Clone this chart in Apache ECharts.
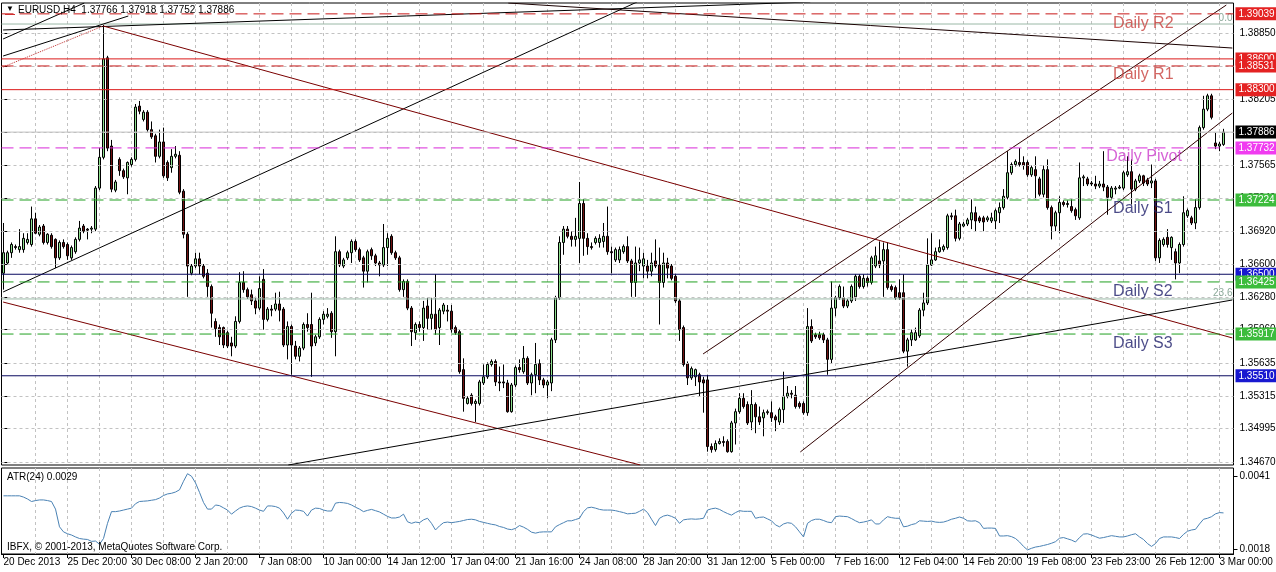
<!DOCTYPE html>
<html><head><meta charset="utf-8">
<script src="https://cdn.jsdelivr.net/npm/echarts@6/dist/echarts.min.js"></script>
<style>html,body{margin:0;padding:0;background:#fff}#c{width:1276px;height:572px}</style>
</head><body><div id="c"></div>
<script>
// ---------- DATA (EURUSD H4) ----------
const symbolName = 'EURUSD,H4';
const open = [
1.3651,1.3661,1.3671,1.3677,1.3674,1.3674,1.3681,1.3679,1.3704,1.3689,
1.3697,1.3681,1.3688,1.3684,1.3666,1.3681,1.3679,1.3666,1.3672,1.3684,
1.3697,1.3694,1.3694,1.3694,1.3734,1.3764,1.3861,1.3775,1.3732,1.3762,
1.3751,1.3744,1.3757,1.3762,1.3814,1.3801,1.3808,1.3791,1.3785,1.3765,
1.3779,1.3759,1.3754,1.3765,1.3766,1.3731,1.3689,1.3651,1.3658,1.3665,
1.3658,1.3651,1.3638,1.3604,1.3598,1.3598,1.3593,1.3583,1.3580,1.3604,
1.3642,1.3635,1.3630,1.3624,1.3617,1.3645,1.3606,1.3616,1.3616,1.3621,
1.3616,1.3581,1.3599,1.3580,1.3570,1.3578,1.3601,1.3601,1.3583,1.3589,
1.3606,1.3609,1.3612,1.3594,1.3672,1.3658,1.3666,1.3671,1.3682,1.3674,
1.3666,1.3653,1.3674,1.3668,1.3661,1.3659,1.3676,1.3687,1.3671,1.3666,
1.3635,1.3643,1.3617,1.3593,1.3601,1.3598,1.3619,1.3607,1.3611,1.3598,
1.3614,1.3615,1.3614,1.3598,1.3594,1.3557,1.3524,1.3532,1.3524,1.3524,
1.3544,1.3550,1.3562,1.3565,1.3545,1.3545,1.3544,1.3516,1.3542,1.3559,
1.3555,1.3568,1.3544,1.3552,1.3563,1.3547,1.3542,1.3544,1.3586,1.3627,
1.3681,1.3694,1.3687,1.3684,1.3685,1.3719,1.3685,1.3677,1.3681,1.3681,
1.3682,1.3687,1.3672,1.3664,1.3664,1.3672,1.3677,1.3663,1.3642,1.3661,
1.3658,1.3658,1.3653,1.3663,1.3659,1.3642,1.3661,1.3658,1.3648,1.3624,
1.3598,1.3563,1.3549,1.3550,1.3552,1.3547,1.3547,1.3482,1.3479,1.3485,
1.3487,1.3487,1.3477,1.3505,1.3516,1.3529,1.3523,1.3506,1.3523,1.3511,
1.3510,1.3515,1.3515,1.3511,1.3506,1.3518,1.3531,1.3534,1.3532,1.3524,
1.3524,1.3515,1.3599,1.3591,1.3591,1.3591,1.3586,1.3567,1.3617,1.3627,
1.3627,1.3619,1.3624,1.3628,1.3648,1.3638,1.3646,1.3642,1.3658,1.3663,
1.3663,1.3674,1.3638,1.3637,1.3632,1.3632,1.3575,1.3586,1.3586,1.3590,
1.3615,1.3622,1.3659,1.3664,1.3672,1.3674,1.3676,1.3707,1.3707,1.3685,
1.3697,1.3699,1.3703,1.3710,1.3705,1.3705,1.3703,1.3702,1.3702,1.3710,
1.3715,1.3725,1.3749,1.3757,1.3759,1.3759,1.3759,1.3747,1.3752,1.3743,
1.3728,1.3752,1.3715,1.3697,1.3710,1.3720,1.3718,1.3716,1.3713,1.3705,
1.3744,1.3743,1.3739,1.3738,1.3736,1.3738,1.3735,1.3725,1.3733,1.3734,
1.3734,1.3747,1.3750,1.3733,1.3741,1.3746,1.3742,1.3739,1.3741,1.3666,
1.3679,1.3686,1.3676,1.3672,1.3661,1.3679,1.3707,1.3705,1.3700,1.3715,
1.3793,1.3811,1.3824,1.3778,1.3775,1.37766];
const close = [
1.3671,1.3671,1.3679,1.3676,1.3677,1.3685,1.3684,1.3704,1.3690,1.3696,
1.3681,1.3689,1.3677,1.3666,1.3681,1.3677,1.3668,1.3676,1.3684,1.3695,
1.3692,1.3693,1.3695,1.3734,1.3764,1.3860,1.3773,1.3733,1.3740,1.3751,
1.3745,1.3759,1.3762,1.3813,1.3809,1.3808,1.3791,1.3784,1.3765,1.3779,
1.3746,1.3744,1.3765,1.3767,1.3730,1.3689,1.3658,1.3658,1.3665,1.3658,
1.3648,1.3638,1.3612,1.3597,1.3589,1.3581,1.3580,1.3580,1.3604,1.3642,
1.3635,1.3628,1.3624,1.3617,1.3636,1.3606,1.3616,1.3615,1.3621,1.3615,
1.3581,1.3599,1.3581,1.3570,1.3578,1.3601,1.3598,1.3580,1.3589,1.3606,
1.3611,1.3611,1.3594,1.3672,1.3659,1.3664,1.3671,1.3682,1.3674,1.3664,
1.3653,1.3672,1.3668,1.3661,1.3659,1.3676,1.3685,1.3671,1.3666,1.3635,
1.3643,1.3617,1.3594,1.3601,1.3598,1.3617,1.3607,1.3611,1.3596,1.3615,
1.3620,1.3614,1.3596,1.3593,1.3555,1.3529,1.3529,1.3524,1.3526,1.3545,
1.3550,1.3562,1.3565,1.3545,1.3544,1.3544,1.3516,1.3542,1.3559,1.3557,
1.3568,1.3544,1.3552,1.3562,1.3547,1.3542,1.3545,1.3586,1.3627,1.3681,
1.3694,1.3687,1.3684,1.3687,1.3719,1.3685,1.3677,1.3676,1.3685,1.3685,
1.3687,1.3672,1.3671,1.3674,1.3674,1.3677,1.3663,1.3642,1.3661,1.3664,
1.3665,1.3653,1.3661,1.3658,1.3642,1.3661,1.3656,1.3646,1.3624,1.3596,
1.3562,1.3549,1.3558,1.3557,1.3545,1.3544,1.3482,1.3479,1.3485,1.3487,
1.3486,1.3477,1.3505,1.3516,1.3529,1.3521,1.3505,1.3523,1.3511,1.3506,
1.3515,1.3516,1.3510,1.3508,1.3518,1.3531,1.3534,1.3533,1.3521,1.3521,
1.3515,1.3599,1.3585,1.3589,1.3588,1.3586,1.3567,1.3617,1.3627,1.3638,
1.3619,1.3624,1.3638,1.3648,1.3638,1.3646,1.3642,1.3666,1.3668,1.3659,
1.3674,1.3637,1.3635,1.3627,1.3627,1.3575,1.3586,1.3593,1.3593,1.3615,
1.3622,1.3659,1.3664,1.3672,1.3676,1.3677,1.3707,1.3706,1.3685,1.3699,
1.3699,1.3703,1.3710,1.3702,1.3702,1.3701,1.3705,1.3705,1.3712,1.3715,
1.3726,1.3749,1.3757,1.3760,1.3757,1.3756,1.3747,1.3754,1.3746,1.3728,
1.3752,1.3715,1.3697,1.3710,1.3720,1.3718,1.3719,1.3712,1.3707,1.3744,
1.3745,1.3738,1.3738,1.3736,1.3738,1.3735,1.3725,1.3734,1.3734,1.3735,
1.3749,1.3750,1.3733,1.3741,1.3746,1.3739,1.3738,1.3741,1.3666,1.3683,
1.3684,1.3679,1.3686,1.3661,1.3679,1.3710,1.3712,1.3700,1.3715,1.3793,
1.3811,1.3824,1.3803,1.3775,1.3777,1.37886];
const low = [
1.3635,1.3660,1.3666,1.3674,1.3671,1.3671,1.3679,1.3677,1.3689,1.3687,
1.3679,1.3679,1.3675,1.3656,1.3664,1.3675,1.3664,1.3664,1.3670,1.3682,
1.3690,1.3684,1.3690,1.3692,1.3732,1.3762,1.3770,1.3730,1.3730,1.3746,
1.3743,1.3728,1.3755,1.3760,1.3806,1.3799,1.3789,1.3782,1.3759,1.3763,
1.3744,1.3741,1.3749,1.3763,1.3728,1.3685,1.3628,1.3649,1.3656,1.3650,
1.3646,1.3628,1.3598,1.3589,1.3581,1.3578,1.3578,1.3570,1.3578,1.3602,
1.3632,1.3626,1.3620,1.3611,1.3615,1.3596,1.3604,1.3609,1.3614,1.3604,
1.3579,1.3567,1.3552,1.3567,1.3565,1.3576,1.3594,1.3550,1.3580,1.3587,
1.3601,1.3607,1.3588,1.3570,1.3657,1.3656,1.3664,1.3661,1.3672,1.3662,
1.3637,1.3642,1.3664,1.3658,1.3648,1.3657,1.3658,1.3669,1.3664,1.3633,
1.3628,1.3615,1.3580,1.3586,1.3594,1.3585,1.3596,1.3596,1.3591,1.3581,
1.3611,1.3604,1.3593,1.3591,1.3553,1.3516,1.3523,1.3522,1.3506,1.3522,
1.3542,1.3548,1.3560,1.3541,1.3536,1.3539,1.3515,1.3515,1.3540,1.3554,
1.3553,1.3542,1.3532,1.3534,1.3542,1.3539,1.3529,1.3536,1.3583,1.3625,
1.3669,1.3685,1.3677,1.3677,1.3661,1.3668,1.3669,1.3674,1.3679,1.3676,
1.3676,1.3669,1.3651,1.3662,1.3661,1.3670,1.3661,1.3628,1.3628,1.3653,
1.3646,1.3646,1.3648,1.3656,1.3601,1.3637,1.3646,1.3644,1.3622,1.3585,
1.3560,1.3542,1.3547,1.3541,1.3531,1.3515,1.3477,1.3476,1.3477,1.3484,
1.3482,1.3476,1.3476,1.3484,1.3514,1.3519,1.3503,1.3498,1.3495,1.3503,
1.3492,1.3513,1.3506,1.3497,1.3503,1.3505,1.3529,1.3529,1.3519,1.3519,
1.3513,1.3512,1.3583,1.3587,1.3586,1.3583,1.3552,1.3563,1.3609,1.3625,
1.3617,1.3617,1.3622,1.3624,1.3636,1.3636,1.3638,1.3640,1.3656,1.3656,
1.3628,1.3635,1.3633,1.3625,1.3625,1.3573,1.3560,1.3580,1.3585,1.3588,
1.3609,1.3620,1.3658,1.3663,1.3671,1.3672,1.3674,1.3703,1.3682,1.3683,
1.3696,1.3697,1.3694,1.3692,1.3700,1.3692,1.3701,1.3700,1.3694,1.3700,
1.3713,1.3723,1.3747,1.3755,1.3755,1.3752,1.3745,1.3745,1.3723,1.3726,
1.3725,1.3713,1.3684,1.3692,1.3690,1.3716,1.3715,1.3710,1.3703,1.3703,
1.3736,1.3736,1.3736,1.3733,1.3734,1.3731,1.3708,1.3723,1.3728,1.3733,
1.3732,1.3745,1.3718,1.3731,1.3739,1.3736,1.3736,1.3734,1.3663,1.3661,
1.3677,1.3676,1.3664,1.3645,1.3651,1.3677,1.3705,1.3698,1.3694,1.3713,
1.3791,1.3809,1.3801,1.3772,1.3770,1.37752];
const high = [
1.3700,1.3673,1.3681,1.3679,1.3694,1.3690,1.3690,1.3716,1.3710,1.3698,
1.3699,1.3690,1.3690,1.3685,1.3683,1.3684,1.3681,1.3678,1.3686,1.3702,
1.3699,1.3695,1.3697,1.3736,1.3773,1.3893,1.3863,1.3781,1.3742,1.3764,
1.3753,1.3760,1.3764,1.3816,1.3819,1.3810,1.3810,1.3799,1.3787,1.3791,
1.3793,1.3761,1.3772,1.3775,1.3770,1.3733,1.3691,1.3660,1.3671,1.3671,
1.3660,1.3655,1.3640,1.3607,1.3601,1.3599,1.3595,1.3589,1.3609,1.3652,
1.3653,1.3637,1.3635,1.3628,1.3648,1.3655,1.3618,1.3620,1.3632,1.3633,
1.3618,1.3604,1.3601,1.3585,1.3580,1.3603,1.3612,1.3632,1.3591,1.3608,
1.3614,1.3617,1.3614,1.3687,1.3674,1.3666,1.3673,1.3684,1.3684,1.3676,
1.3668,1.3674,1.3676,1.3670,1.3663,1.3699,1.3690,1.3689,1.3673,1.3668,
1.3645,1.3645,1.3619,1.3603,1.3604,1.3624,1.3627,1.3627,1.3650,1.3617,
1.3622,1.3620,1.3620,1.3600,1.3596,1.3568,1.3531,1.3534,1.3528,1.3547,
1.3562,1.3564,1.3567,1.3567,1.3560,1.3562,1.3547,1.3544,1.3561,1.3567,
1.3580,1.3570,1.3554,1.3583,1.3567,1.3549,1.3547,1.3588,1.3629,1.3687,
1.3697,1.3697,1.3692,1.3705,1.3740,1.3723,1.3690,1.3681,1.3687,1.3689,
1.3700,1.3716,1.3677,1.3676,1.3677,1.3679,1.3687,1.3665,1.3677,1.3676,
1.3671,1.3664,1.3671,1.3684,1.3676,1.3671,1.3666,1.3660,1.3650,1.3626,
1.3600,1.3565,1.3560,1.3558,1.3554,1.3550,1.3552,1.3485,1.3488,1.3490,
1.3492,1.3489,1.3507,1.3519,1.3534,1.3534,1.3526,1.3537,1.3525,1.3521,
1.3518,1.3518,1.3526,1.3513,1.3520,1.3555,1.3541,1.3537,1.3541,1.3526,
1.3526,1.3617,1.3606,1.3593,1.3594,1.3593,1.3588,1.3643,1.3629,1.3640,
1.3638,1.3626,1.3640,1.3650,1.3650,1.3650,1.3648,1.3668,1.3677,1.3682,
1.3681,1.3681,1.3640,1.3639,1.3645,1.3650,1.3588,1.3596,1.3598,1.3617,
1.3632,1.3685,1.3690,1.3676,1.3684,1.3679,1.3709,1.3710,1.3713,1.3701,
1.3701,1.3705,1.3723,1.3716,1.3707,1.3707,1.3707,1.3710,1.3714,1.3720,
1.3733,1.3770,1.3759,1.3762,1.3773,1.3765,1.3761,1.3756,1.3765,1.3745,
1.3756,1.3762,1.3717,1.3712,1.3726,1.3722,1.3722,1.3723,1.3715,1.3759,
1.3747,1.3745,1.3741,1.3746,1.3741,1.3770,1.3737,1.3736,1.3736,1.3737,
1.3751,1.3765,1.3762,1.3743,1.3748,1.3747,1.3744,1.3757,1.3743,1.3685,
1.3686,1.3694,1.3687,1.3675,1.3681,1.3726,1.3714,1.3707,1.3723,1.3795,
1.3824,1.3826,1.3826,1.3788,1.3779,1.37918];
const atr = [
0.00348,0.00348,0.00348,0.00348,0.00348,0.00344,0.00338,0.00330,0.00333,0.00335,
0.00335,0.00333,0.00330,0.00306,0.00250,0.00234,0.00228,0.00224,0.00218,0.00213,
0.00211,0.00210,0.00204,0.00205,0.00195,0.00213,0.00261,0.00298,0.00298,0.00300,
0.00303,0.00306,0.00309,0.00323,0.00330,0.00331,0.00332,0.00334,0.00336,0.00341,
0.00349,0.00354,0.00356,0.00360,0.00367,0.00394,0.00418,0.00410,0.00389,0.00359,
0.00327,0.00306,0.00306,0.00319,0.00317,0.00310,0.00303,0.00290,0.00300,0.00309,
0.00314,0.00316,0.00314,0.00309,0.00303,0.00299,0.00316,0.00316,0.00314,0.00309,
0.00294,0.00274,0.00293,0.00303,0.00302,0.00299,0.00284,0.00303,0.00309,0.00308,
0.00303,0.00300,0.00300,0.00325,0.00327,0.00326,0.00324,0.00319,0.00312,0.00306,
0.00298,0.00302,0.00305,0.00301,0.00297,0.00290,0.00283,0.00278,0.00278,0.00281,
0.00290,0.00266,0.00261,0.00265,0.00263,0.00272,0.00277,0.00261,0.00240,0.00253,
0.00263,0.00265,0.00263,0.00265,0.00267,0.00270,0.00273,0.00274,0.00272,0.00267,
0.00264,0.00261,0.00258,0.00256,0.00251,0.00248,0.00243,0.00241,0.00245,0.00254,
0.00249,0.00242,0.00233,0.00230,0.00233,0.00234,0.00234,0.00234,0.00250,0.00257,
0.00263,0.00269,0.00269,0.00273,0.00277,0.00298,0.00310,0.00312,0.00309,0.00305,
0.00303,0.00303,0.00303,0.00301,0.00298,0.00295,0.00291,0.00292,0.00293,0.00299,
0.00306,0.00295,0.00274,0.00254,0.00277,0.00284,0.00287,0.00283,0.00277,0.00261,
0.00272,0.00274,0.00275,0.00274,0.00275,0.00277,0.00303,0.00307,0.00309,0.00305,
0.00298,0.00292,0.00287,0.00295,0.00301,0.00299,0.00299,0.00299,0.00277,0.00280,
0.00281,0.00275,0.00269,0.00256,0.00250,0.00259,0.00263,0.00261,0.00250,0.00234,
0.00218,0.00261,0.00270,0.00274,0.00274,0.00270,0.00265,0.00263,0.00282,0.00284,
0.00283,0.00282,0.00276,0.00269,0.00263,0.00265,0.00268,0.00272,0.00259,0.00259,
0.00272,0.00282,0.00279,0.00277,0.00277,0.00250,0.00252,0.00257,0.00260,0.00269,
0.00268,0.00267,0.00268,0.00265,0.00264,0.00265,0.00269,0.00274,0.00277,0.00281,
0.00277,0.00269,0.00268,0.00269,0.00263,0.00245,0.00246,0.00246,0.00245,0.00221,
0.00221,0.00222,0.00219,0.00213,0.00202,0.00188,0.00177,0.00182,0.00186,0.00188,
0.00191,0.00194,0.00198,0.00203,0.00214,0.00216,0.00212,0.00208,0.00202,0.00216,
0.00227,0.00228,0.00224,0.00219,0.00214,0.00216,0.00219,0.00222,0.00220,0.00218,
0.00218,0.00221,0.00225,0.00228,0.00218,0.00210,0.00197,0.00188,0.00197,0.00213,
0.00218,0.00218,0.00218,0.00216,0.00213,0.00226,0.00236,0.00240,0.00242,0.00259,
0.00274,0.00277,0.00282,0.00291,0.00295,0.00294];
const xTickLabels = ['20 Dec 2013','25 Dec 20:00','30 Dec 08:00','2 Jan 20:00','7 Jan 08:00','10 Jan 00:00','14 Jan 12:00','17 Jan 04:00','21 Jan 16:00','24 Jan 08:00','28 Jan 20:00','31 Jan 12:00','5 Feb 00:00','7 Feb 16:00','12 Feb 04:00','14 Feb 20:00','19 Feb 08:00','23 Feb 23:00','26 Feb 12:00','3 Mar 00:00'];
const yTickValues = [1.38850,1.38525,1.38205,1.37880,1.37565,1.37240,1.36920,1.36600,1.36280,1.35960,1.35635,1.35315,1.34995,1.34670];
const atrTickValues = [0.0041, 0.0018];
const levelPrices = [1.39039,1.38600,1.38531,1.38300,1.37886,1.37732,1.37224,1.36500,1.36425,1.35917,1.35510];
const fibPrices = [1.38940, 1.36259];
const fibLabels = ['0.0', '23.6'];
// trend lines: pairs of [bar index, price]
const trendLines = [
  [[-0.1,1.36327],[158.4,1.39155]],
  [[-0.1,1.38882],[201.7,1.39155]],
  [[-0.1,1.38628],[31.2,1.39018]],
  [[-0.1,1.38794],[20.2,1.39145]],
  [[-0.1,1.38521],[24.9,1.38921]],
  [[24.9,1.38921],[307.2,1.35879]],
  [[-0.1,1.36229],[159.2,1.34640]],
  [[71.2,1.34640],[307.2,1.36249]],
  [[126.2,1.39145],[307.2,1.38706]],
  [[174.9,1.35723],[305.7,1.39125]],
  [[199.2,1.34767],[307.2,1.38072]]
];
const noteTexts = ['Daily R2','Daily R1','Daily Pivot','Daily S1','Daily S2','Daily S3'];
const noteAnchors = [[277.4,1.38945],[277.4,1.38443],[275.7,1.37643],[277.4,1.37136],[277.4,1.36330],[277.4,1.35827]];

// ---------- STYLE ----------
const FONT = '"Liberation Sans",Arial,sans-serif';
const BIG = '"Liberation Sans",Arial,sans-serif';
const FS = 10;
const Y_MIN = 1.34640, Y_MAX = 1.39145;
const A_MIN = 0.00164, A_MAX = 0.00436;
const NCAT = open.length + 2;
const X_LO = -0.5, X_HI = NCAT - 0.5;
const cats = Array.from({length: NCAT}, (_, i) => String(i));
const candles = open.map((o, i) => [o, close[i], low[i], high[i]]);
const last = open.length - 1;

const levelLine = ['#c81818','#dc1a1a','#c81818','#dc1a1a','#c0c0c0','#d828d8','#20a020','#0a0a60','#20a020','#20a020','#0a0a60'];
const levelDash = [[12,6],'solid',[12,6],'solid','solid',[12,6],[12,6],'solid',[12,6],[12,6],'solid'];
const levelTag  = ['#e42222','#e42222','#e42222','#e42222','#000000','#f03cf0','#3cbc3c','#1818d0','#3cbc3c','#3cbc3c','#1818d0'];
const trendColor = ['#000','#000','#000','#000','#c03030','#7a0000','#7a0000','#000','#1a0000','#300000','#300000'];
const trendType  = ['solid','solid','solid','solid','dotted','solid','solid','solid','solid','solid','solid'];
const noteColor = ['#c8403c','#c8403c','#cc3ccc','#1e1e6a','#1e1e6a','#1e1e6a'];

const gridLineStyle = {color:'#c2c2c2', type:[3,3], width:1};
const hiddenLine = {color:'rgba(0,0,0,0)', width:0};

const series = [];
series.push({
  type:'line', xAxisIndex:2, yAxisIndex:0, data:[], z:1, silent:true,
  markLine:{symbol:['none','none'], silent:true, animation:false, precision:6, label:{show:false},
    lineStyle:gridLineStyle, data:yTickValues.map(v=>({yAxis:v}))}
});
series.push({
  type:'candlestick', xAxisIndex:0, yAxisIndex:0, data:candles, barWidth:2, z:3,
  itemStyle:{color:'#8ee08e', color0:'#701010', borderColor:'#000', borderColor0:'#000', borderColorDoji:'#000', borderWidth:1}
});
// fib levels
fibPrices.forEach((p)=>{
  series.push({type:'line', xAxisIndex:2, yAxisIndex:0, data:[[X_LO,p],[X_HI,p]], symbol:'none', silent:true, z:4,
    lineStyle:{color:'#9ab8a6', width:1, type:'solid'}});
});
series.push({
  type:'line', xAxisIndex:2, yAxisIndex:0, data:[], z:4, silent:true,
  markLine:{symbol:['none','none'], silent:true, animation:false, precision:6,
    data: fibPrices.map((p,k)=>({yAxis:p, lineStyle:hiddenLine,
      label:{show:true, position:'insideEndTop', formatter:fibLabels[k], color:'#8aa898', fontSize:FS, fontFamily:FONT, distance:1}}))}
});
trendLines.forEach((pts,k)=>{
  series.push({type:'line', xAxisIndex:2, yAxisIndex:0, data:pts, symbol:'none', clip:true, silent:true, z:5,
    lineStyle:{color:trendColor[k], width:1, type:trendType[k]}});
});
// horizontal levels
levelPrices.forEach((p,k)=>{
  series.push({type:'line', xAxisIndex:2, yAxisIndex:0, data:[[X_LO,p],[X_HI,p]], symbol:'none', silent:true, z:6,
    lineStyle:{color:levelLine[k], width:1, type:levelDash[k]}});
});
series.push({
  type:'line', xAxisIndex:2, yAxisIndex:0, data:[], z:8, silent:true,
  markLine:{symbol:['none','none'], silent:true, animation:false, precision:6,
    data: levelPrices.map((p,k)=>({yAxis:p, lineStyle:hiddenLine,
      label:{show:true, position:'end', formatter:p.toFixed(5), backgroundColor:levelTag[k], color:'#fff',
        padding:[2,3,1,3], fontSize:FS, fontFamily:FONT, distance:2}}))}
});
series.push({
  type:'scatter', xAxisIndex:2, yAxisIndex:0, symbolSize:0, silent:true, z:7,
  data: noteTexts.map((t,k)=>({value:noteAnchors[k], label:{formatter:t, color:noteColor[k]}})),
  label:{show:true, position:[0,0], align:'left', verticalAlign:'middle', fontSize:16, fontFamily:BIG}
});
series.push({
  type:'line', xAxisIndex:1, yAxisIndex:1, data:atr, symbol:'none', showSymbol:false, silent:true,
  lineStyle:{color:'#4a82b4', width:1}
});

const header = symbolName + '  ' + [open[last],high[last],low[last],close[last]].map(v=>v.toFixed(5)).join(' ');

const option = {
  animation:false,
  backgroundColor:'#fff',
  grid:[
    {left:1.5, top:3, width:1232, height:462, show:true, borderColor:'#000', borderWidth:1, outerBoundsMode:'none'},
    {left:1.5, top:468, width:1232, height:86, show:true, borderColor:'#000', borderWidth:1, outerBoundsMode:'none'}
  ],
  xAxis:[
    {type:'category', gridIndex:0, data:cats, boundaryGap:true,
      axisLine:{show:false}, axisTick:{show:false}, axisLabel:{show:false},
      splitLine:{show:true, interval:(i)=> i%8===0 && i>0, alignWithLabel:true, lineStyle:gridLineStyle}},
    {type:'category', gridIndex:1, data:cats, boundaryGap:true,
      axisLine:{show:true, lineStyle:{color:'#000', width:1}},
      axisTick:{show:true, interval:(i)=> i%16===0, alignWithLabel:true, length:4, lineStyle:{color:'#000'}},
      axisLabel:{show:true, interval:(i)=> i%16===0, align:'left', margin:3, color:'#000', fontSize:FS, fontFamily:FONT,
        formatter:(v,i)=> xTickLabels[Math.round(i/16)] || ''},
      splitLine:{show:true, interval:(i)=> i%8===0 && i>0, alignWithLabel:true, lineStyle:gridLineStyle}},
    {type:'value', gridIndex:0, min:X_LO, max:X_HI, show:false}
  ],
  yAxis:[
    {type:'value', gridIndex:0, position:'right', min:Y_MIN, max:Y_MAX,
      axisLine:{show:false}, splitLine:{show:false},
      axisTick:{show:true, customValues:yTickValues, length:4, lineStyle:{color:'#000'}},
      axisLabel:{show:true, customValues:yTickValues, formatter:v=>Number(v).toFixed(5), margin:6, color:'#000', fontSize:FS, fontFamily:FONT}},
    {type:'value', gridIndex:1, position:'right', min:A_MIN, max:A_MAX,
      axisLine:{show:false}, splitLine:{show:false},
      axisTick:{show:true, customValues:atrTickValues, length:4, lineStyle:{color:'#000'}},
      axisLabel:{show:true, customValues:atrTickValues, formatter:v=>Number(v).toFixed(4), margin:6, color:'#000', fontSize:FS, fontFamily:FONT}}
  ],
  series:series,
  graphic:[
    {type:'text', left:6, top:5, z:100, style:{text:'\u25BC', fontSize:8, fill:'#000'}},
    {type:'rect', left:5, top:14, z:100, shape:{width:10, height:1}, style:{fill:'#d03030'}},
    {type:'text', left:18, top:5, z:100, style:{text:header, fontSize:FS, fontFamily:FONT, fill:'#000'}},
    {type:'text', left:7, top:472, z:100, style:{text:'ATR(24) ' + atr[last].toFixed(4), fontSize:FS, fontFamily:FONT, fill:'#000'}},
    {type:'text', left:7, top:542, z:100, style:{text:'IBFX, \u00A9 2001-2013, MetaQuotes Software Corp.', fontSize:FS, fontFamily:FONT, fill:'#000'}}
  ]
};
const chart = echarts.init(document.getElementById('c'), null, {renderer:'canvas'});
chart.setOption(option);
</script>
</body></html>
